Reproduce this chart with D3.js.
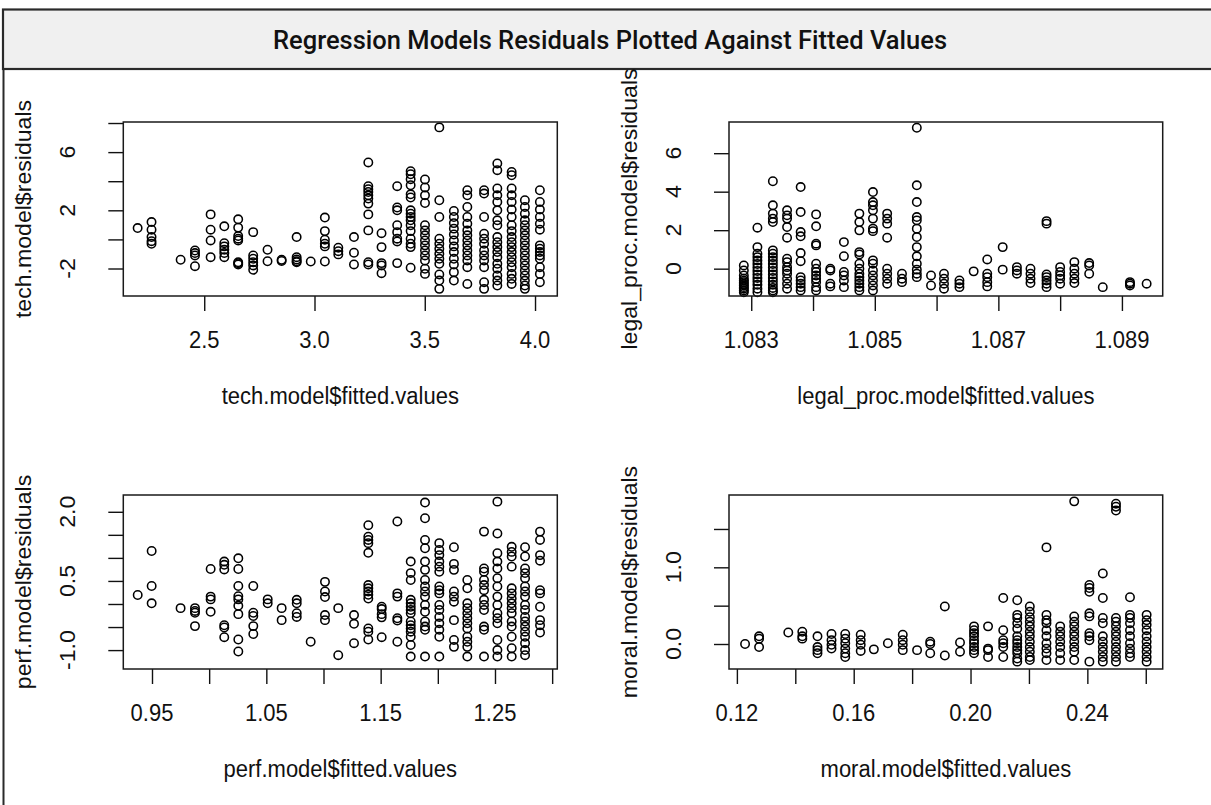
<!DOCTYPE html>
<html>
<head>
<meta charset="utf-8">
<script src="https://cdn.jsdelivr.net/npm/d3@7"></script>
<style>
  html, body { margin: 0; padding: 0; background: #ffffff; }
  svg { display: block; }
</style>
</head>
<body>
<svg id="chart" width="1211" height="805"></svg>
<script>
// ---- tech model: distinct fitted values and the residuals observed at each ----
const techFitted = [2.198, 2.261, 2.393, 2.458, 2.529, 2.591, 2.654, 2.722, 2.787, 2.851, 2.919, 2.983, 3.047, 3.108,
  3.179, 3.244, 3.304, 3.375, 3.436, 3.501, 3.566, 3.632, 3.693, 3.769, 3.829, 3.894, 3.954, 4.022];
const techResiduals = [
  [0.78],
  [1.19, 0.67, 0.16, -0.12, -0.30],
  [-1.40],
  [-0.76, -0.94, -1.10, -1.84],
  [1.72, 0.67, -0.07, -1.22],
  [0.90, -0.26, -0.48, -0.71, -0.94, -1.22],
  [1.38, 0.81, 0.23, 0.05, -0.07, -1.57, -1.64, -1.72],
  [0.50, -1.10, -1.33, -1.57, -1.79, -2.09],
  [-0.71, -1.50],
  [-1.40, -1.48],
  [0.16, -1.22, -1.38, -1.50, -1.57],
  [-1.52],
  [1.50, 0.57, -0.02, -0.30, -0.48, -1.52],
  [-0.57, -0.81, -1.03],
  [0.16, -0.92, -1.72],
  [5.29, 3.66, 3.45, 3.26, 3.03, 2.81, 2.46, 1.72, 0.62, -1.57, -1.72],
  [0.43, -0.53, -1.63, -1.79, -2.32],
  [3.66, 2.19, 2.00, 0.97, 0.50, 0.05, -0.14, -1.63],
  [4.69, 4.48, 4.14, 3.72, 3.10, 2.88, 2.00, 1.77, 1.54, 1.31, 0.97, 0.57, 0.05, -0.30, -0.53, -1.95],
  [4.12, 3.57, 3.03, 2.50, 0.97, 0.62, 0.28, -0.07, -0.41, -0.76, -1.10, -1.45, -2.02, -2.37],
  [7.70, 2.69, 1.54, 0.05, -0.30, -0.64, -0.99, -1.33, -1.68, -2.41, -2.83, -3.40],
  [1.95, 1.54, 1.12, 0.74, 0.34, -0.07, -0.48, -0.87, -1.33, -1.72, -2.25, -2.83],
  [3.38, 3.03, 2.23, 1.54, 1.08, 0.62, 0.28, -0.07, -0.41, -0.76, -1.10, -1.45, -1.91, -3.06],
  [3.38, 3.15, 1.54, 0.39, 0.05, -0.30, -0.76, -1.10, -1.45, -1.91, -2.94, -3.40],
  [5.22, 4.76, 3.50, 3.03, 2.57, 2.00, 1.31, 0.97, 0.16, -0.19, -0.53, -0.87, -1.22, -1.68, -2.02, -2.48, -2.83, -3.17],
  [4.64, 4.41, 3.50, 3.03, 2.57, 2.05, 1.54, 0.97, 0.57, 0.16, -0.19, -0.53, -0.87, -1.22, -1.57, -1.91, -2.37, -2.71, -3.06],
  [2.69, 2.23, 1.77, 1.31, 0.97, 0.62, 0.28, -0.07, -0.41, -0.76, -1.10, -1.45, -1.79, -2.14, -2.48, -2.83, -3.17, -3.40],
  [3.38, 2.57, 2.05, 1.54, 1.08, 0.67, -0.41, -0.64, -0.87, -1.10, -1.33, -1.91, -2.37, -2.94]
];
const techXTicks = [2.5, 3.0, 3.5, 4.0];
const techXLabels = ["2.5", "3.0", "3.5", "4.0"];
const techYTicks = [-2, 0, 2, 4, 6, 8];
const techYLabels = ["-2", "", "2", "", "6", ""];

// ---- legal_proc model ----
const legalFitted = [1.08288, 1.08310, 1.08335, 1.08358, 1.08380, 1.08405, 1.08428, 1.08450, 1.08475, 1.08497, 1.08520,
  1.08544, 1.08568, 1.08591, 1.08612, 1.08637, 1.08660, 1.08682, 1.08707, 1.08730, 1.08752, 1.08778, 1.08800, 1.08823,
  1.08847, 1.08869, 1.08913, 1.08940];
const legalResiduals = [
  [0.17, -0.09, -0.35, -0.52, -0.62, -0.70, -0.80, -0.87, -0.96, -1.04, -1.13, -1.22],
  [2.13, 1.12, 0.78, 0.60, 0.42, 0.24, 0.06, -0.12, -0.30, -0.48, -0.66, -0.84, -1.04, -1.22],
  [4.54, 3.29, 2.86, 2.60, 2.42, 0.95, 0.78, 0.60, 0.42, 0.24, 0.06, -0.12, -0.30, -0.48, -0.66, -0.84, -1.00, -1.13, -1.22],
  [3.03, 2.77, 2.60, 2.16, 1.61, 0.52, 0.34, 0.08, -0.10, -0.26, -0.52, -0.78, -1.04],
  [4.24, 2.94, 1.90, 1.68, 0.81, 0.39, -0.44, -0.61, -0.78, -0.96, -1.13],
  [2.82, 2.20, 1.30, 1.21, 0.26, 0.00, -0.17, -0.35, -0.52, -0.70, -0.96, -1.13],
  [0.00, -0.09, -0.78, -0.92],
  [1.38, 0.65, -0.17, -0.35, -0.61, -0.96],
  [2.86, 2.42, 1.99, 0.86, 0.74, 0.26, 0.00, -0.26, -0.44, -0.61, -0.78, -0.96, -1.13],
  [3.98, 3.46, 3.29, 3.03, 2.60, 2.08, 1.95, 0.43, 0.26, -0.09, -0.35, -0.61, -0.87, -1.13],
  [2.86, 2.60, 2.34, 1.61, 0.00, -0.26, -0.52, -0.78],
  [-0.26, -0.52, -0.70],
  [7.32, 4.33, 3.46, 2.68, 2.51, 2.08, 1.64, 1.12, 0.64, 0.26, -0.05, -0.26, -0.44],
  [-0.35, -0.87],
  [-0.26, -0.52, -0.78, -1.04],
  [-0.61, -0.78, -0.96],
  [-0.14],
  [0.48, -0.26, -0.44, -0.70, -0.92],
  [1.12, -0.05],
  [0.08, -0.09, -0.26],
  [0.00, -0.26, -0.52, -0.75],
  [2.47, 2.34, -0.30, -0.44, -0.61, -0.78, -0.96],
  [0.08, -0.17, -0.35, -0.52, -0.78],
  [0.34, 0.00, -0.26, -0.52, -0.75],
  [0.29, 0.17, -0.26],
  [-0.96],
  [-0.70, -0.78, -0.87],
  [-0.78]
];
const legalXTicks = [1.083, 1.084, 1.085, 1.086, 1.087, 1.088, 1.089];
const legalXLabels = ["1.083", "", "1.085", "", "1.087", "", "1.089"];
const legalYTicks = [0, 2, 4, 6];
const legalYLabels = ["0", "2", "4", "6"];

// ---- perf model ----
const perfFitted = [0.9375, 0.9497, 0.9750, 0.9876, 1.0013, 1.0132, 1.0255, 1.0386, 1.0512, 1.0634, 1.0766, 1.0888,
  1.1013, 1.1129, 1.1267, 1.1392, 1.1509, 1.1646, 1.1763, 1.1888, 1.2013, 1.2141, 1.2258, 1.2404, 1.2521, 1.2646,
  1.2763, 1.2894];
const perfResiduals = [
  [0.195],
  [1.15, 0.39, 0.015],
  [-0.09],
  [-0.09, -0.15, -0.19, -0.48],
  [0.76, 0.16, 0.10, -0.17],
  [0.92, 0.85, 0.75, -0.46, -0.51, -0.72],
  [0.99, 0.76, 0.39, 0.17, 0.10, -0.04, -0.22, -0.77, -1.03],
  [0.39, -0.19, -0.26, -0.48, -0.65],
  [0.10, 0.015],
  [-0.09, -0.35],
  [0.09, 0.015, -0.20, -0.28],
  [-0.82],
  [0.48, 0.27, 0.15, -0.24, -0.35],
  [-0.09, -1.11],
  [-0.24, -0.43, -0.85],
  [1.71, 1.46, 1.39, 1.32, 1.11, 0.41, 0.34, 0.27, 0.20, 0.12, -0.53, -0.60, -0.77],
  [-0.06, -0.11, -0.22, -0.29, -0.72],
  [1.79, 0.23, 0.16, -0.31, -0.36, -0.82],
  [0.92, 0.67, 0.52, 0.09, 0.015, -0.06, -0.13, -0.20, -0.38, -0.46, -0.53, -0.60, -0.71, -0.89, -1.14],
  [2.20, 1.86, 1.39, 1.21, 0.92, 0.74, 0.52, 0.38, 0.27, 0.16, -0.02, -0.17, -0.38, -0.49, -0.56, -1.14],
  [1.32, 1.17, 1.06, 0.92, 0.81, 0.70, 0.38, 0.30, 0.23, -0.02, -0.13, -0.28, -0.42, -0.56, -0.71, -1.14],
  [1.23, 0.87, 0.74, 0.27, 0.16, 0.05, -0.35, -0.78, -0.93],
  [0.52, 0.34, 0.015, -0.09, -0.20, -0.31, -0.42, -0.53, -0.71, -0.82, -0.93, -1.14],
  [1.57, 0.77, 0.70, 0.52, 0.41, 0.30, 0.09, -0.02, -0.13, -0.49, -0.56, -1.14],
  [2.22, 1.53, 1.10, 0.92, 0.77, 0.56, 0.38, 0.16, -0.02, -0.20, -0.31, -0.42, -0.78, -1.00, -1.14],
  [1.24, 1.13, 1.03, 0.81, 0.34, 0.23, 0.12, 0.015, -0.09, -0.20, -0.38, -0.49, -0.71, -0.96, -1.14],
  [1.23, 1.03, 0.77, 0.67, 0.56, 0.38, 0.27, 0.16, -0.02, -0.13, -0.28, -0.38, -0.49, -0.60, -0.71, -0.85, -1.00, -1.11],
  [1.57, 1.39, 1.06, 0.94, 0.30, 0.23, -0.06, -0.35, -0.46, -0.62]
];
const perfXTicks = [0.95, 1.00, 1.05, 1.10, 1.15, 1.20, 1.25, 1.30];
const perfXLabels = ["0.95", "", "1.05", "", "1.15", "", "1.25", ""];
const perfYTicks = [-1.0, -0.5, 0.0, 0.5, 1.0, 1.5, 2.0];
const perfYLabels = ["-1.0", "", "", "0.5", "", "", "2.0"];

// ---- moral model ----
const moralFitted = [0.1228, 0.1276, 0.1376, 0.1424, 0.1476, 0.1524, 0.1571, 0.1624, 0.1669, 0.1717, 0.1768, 0.1817,
  0.1862, 0.1912, 0.1964, 0.2012, 0.2060, 0.2112, 0.2160, 0.2203, 0.2260, 0.2307, 0.2355, 0.2407, 0.2453, 0.2498,
  0.2546, 0.2603];
const moralResiduals = [
  [0.00],
  [0.10, 0.07, -0.04],
  [0.15],
  [0.16, 0.10, 0.07],
  [0.10, -0.04, -0.08, -0.12],
  [0.13, 0.05, -0.01, -0.06],
  [0.13, 0.07, 0.01, -0.06, -0.12, -0.17],
  [0.12, 0.05, -0.01, -0.09],
  [-0.07],
  [0.01],
  [0.12, 0.05, -0.01, -0.08],
  [-0.08],
  [0.03, 0.00, -0.12],
  [0.49, -0.15],
  [0.02, -0.10],
  [0.23, 0.18, 0.14, 0.10, 0.05, 0.01, -0.04, -0.08, -0.12],
  [0.23, -0.06, -0.08, -0.17],
  [0.60, 0.18, 0.05, 0.01, -0.04, -0.17],
  [0.57, 0.38, 0.34, 0.27, 0.20, 0.10, 0.05, 0.01, -0.04, -0.08, -0.12, -0.19, -0.23],
  [0.49, 0.42, 0.35, 0.29, 0.23, 0.16, 0.10, 0.03, -0.04, -0.10, -0.17, -0.21],
  [1.26, 0.38, 0.31, 0.27, 0.18, 0.10, 0.01, -0.06, -0.12, -0.21],
  [0.23, 0.16, 0.10, 0.03, -0.04, -0.12, -0.21],
  [1.86, 0.36, 0.29, 0.23, 0.16, 0.10, 0.03, -0.04, -0.10, -0.21],
  [0.77, 0.73, 0.68, 0.40, 0.36, 0.14, 0.10, 0.05, -0.23],
  [0.92, 0.60, 0.34, 0.27, 0.10, 0.03, -0.04, -0.10, -0.17, -0.23],
  [1.83, 1.79, 1.74, 0.34, 0.29, 0.23, 0.16, 0.10, 0.03, -0.04, -0.10, -0.17, -0.23],
  [0.61, 0.38, 0.34, 0.27, 0.18, 0.10, 0.01, -0.06, -0.12, -0.17],
  [0.38, 0.31, 0.25, 0.18, 0.10, 0.03, -0.04, -0.10, -0.17, -0.23]
];
const moralXTicks = [0.12, 0.14, 0.16, 0.18, 0.20, 0.22, 0.24, 0.26];
const moralXLabels = ["0.12", "", "0.16", "", "0.20", "", "0.24", ""];
const moralYTicks = [0.0, 0.5, 1.0, 1.5];
const moralYLabels = ["0.0", "", "1.0", ""];

const chartTitle = "Regression Models Residuals Plotted Against Fitted Values";

// ---- layout ----
const W = 1211, H = 805;
const svg = d3.select("#chart");
const FONT = "'Liberation Sans', Arial, sans-serif";
const FS = 22;          // axis text size
const STRETCH = 1.05;   // glyphs are drawn slightly taller than wide

// title bar and outer frame
svg.append("rect")
  .attr("x", 3).attr("y", 9.5).attr("width", W + 10).attr("height", 59.5)
  .attr("fill", "#f0f0f0").attr("stroke", "#2a2a2a").attr("stroke-width", 2.2);
svg.append("line")
  .attr("x1", 3.5).attr("x2", 3.5).attr("y1", 69).attr("y2", H)
  .attr("stroke", "#2a2a2a").attr("stroke-width", 2);
svg.append("text")
  .attr("x", 610).attr("y", 49)
  .attr("text-anchor", "middle")
  .attr("font-family", "Roboto, 'DejaVu Sans', sans-serif")
  .attr("font-weight", 500)
  .attr("font-size", 26)
  .attr("textLength", 674).attr("lengthAdjust", "spacingAndGlyphs")
  .attr("fill", "#111")
  .text(chartTitle);

const panels = [
  { fitted: techFitted, residuals: techResiduals, xLim: [2.133, 4.101], yLim: [-3.89, 8.07],
    xTicks: techXTicks, xLabels: techXLabels, yTicks: techYTicks, yLabels: techYLabels,
    xTitle: "tech.model$fitted.values", yTitle: "tech.model$residuals",
    x0: 123.3, x1: 557.3, y0: 122, y1: 296 },
  { fitted: legalFitted, residuals: legalResiduals, xLim: [1.08264, 1.08966], yLim: [-1.42, 7.62],
    xTicks: legalXTicks, xLabels: legalXLabels, yTicks: legalYTicks, yLabels: legalYLabels,
    xTitle: "legal_proc.model$fitted.values", yTitle: "legal_proc.model$residuals",
    x0: 729, x1: 1162.7, y0: 122, y1: 296 },
  { fitted: perfFitted, residuals: perfResiduals, xLim: [0.9249, 1.3045], yLim: [-1.41, 2.364],
    xTicks: perfXTicks, xLabels: perfXLabels, yTicks: perfYTicks, yLabels: perfYLabels,
    xTitle: "perf.model$fitted.values", yTitle: "perf.model$residuals",
    x0: 123.3, x1: 557.3, y0: 495, y1: 669 },
  { fitted: moralFitted, residuals: moralResiduals, xLim: [0.1173, 0.2658], yLim: [-0.326, 1.943],
    xTicks: moralXTicks, xLabels: moralXLabels, yTicks: moralYTicks, yLabels: moralYLabels,
    xTitle: "moral.model$fitted.values", yTitle: "moral.model$residuals",
    x0: 729, x1: 1162.7, y0: 495, y1: 669 }
];

function drawPanel(p) {
  const x = d3.scaleLinear().domain(p.xLim).range([p.x0, p.x1]);
  const y = d3.scaleLinear().domain(p.yLim).range([p.y1, p.y0]);
  const g = svg.append("g");

  // residual points, one open circle per observation
  const pts = p.fitted.flatMap((f, i) => p.residuals[i].map(r => ({ f, r })));
  g.append("g").selectAll("circle").data(pts).join("circle")
    .attr("cx", d => x(d.f)).attr("cy", d => y(d.r))
    .attr("r", 4.2)
    .attr("fill", "none").attr("stroke", "#000").attr("stroke-width", 1.55);

  // bottom axis ticks
  const xa = g.append("g").attr("transform", `translate(0,${p.y1})`)
    .call(d3.axisBottom(x).tickValues(p.xTicks).tickSize(15).tickSizeOuter(0).tickFormat(""));
  xa.select(".domain").remove();
  xa.selectAll(".tick line").attr("stroke", "#111").attr("stroke-width", 1.4);

  // left axis ticks
  const ya = g.append("g").attr("transform", `translate(${p.x0},0)`)
    .call(d3.axisLeft(y).tickValues(p.yTicks).tickSize(15).tickSizeOuter(0).tickFormat(""));
  ya.select(".domain").remove();
  ya.selectAll(".tick line").attr("stroke", "#111").attr("stroke-width", 1.4);

  // plot frame
  g.append("rect")
    .attr("x", p.x0).attr("y", p.y0)
    .attr("width", p.x1 - p.x0).attr("height", p.y1 - p.y0)
    .attr("fill", "none").attr("stroke", "#1a1a1a").attr("stroke-width", 1.5);

  // x tick labels
  g.append("g").selectAll("text").data(p.xTicks.map((v, i) => ({ v, t: p.xLabels[i] })).filter(d => d.t))
    .join("text")
    .attr("transform", d => `translate(${x(d.v)},${p.y1 + 52}) scale(1,${STRETCH})`)
    .attr("text-anchor", "middle")
    .attr("font-family", FONT).attr("font-size", FS).attr("fill", "#111")
    .text(d => d.t);

  // y tick labels, rotated as in base graphics
  g.append("g").selectAll("text").data(p.yTicks.map((v, i) => ({ v, t: p.yLabels[i] })).filter(d => d.t))
    .join("text")
    .attr("transform", d => `translate(${p.x0 - 48},${y(d.v)}) rotate(-90) scale(${STRETCH},1)`)
    .attr("text-anchor", "middle")
    .attr("font-family", FONT).attr("font-size", FS).attr("fill", "#111")
    .text(d => d.t);

  // axis titles
  g.append("text")
    .attr("transform", `translate(${(p.x0 + p.x1) / 2},${p.y1 + 108}) scale(1,${STRETCH})`)
    .attr("text-anchor", "middle")
    .attr("font-family", FONT).attr("font-size", FS).attr("fill", "#111")
    .text(p.xTitle);
  g.append("text")
    .attr("transform", `translate(${p.x0 - 92},${(p.y0 + p.y1) / 2}) rotate(-90) scale(${STRETCH},1)`)
    .attr("text-anchor", "middle")
    .attr("font-family", FONT).attr("font-size", FS).attr("fill", "#111")
    .text(p.yTitle);
}

panels.forEach(drawPanel);
</script>
</body>
</html>
